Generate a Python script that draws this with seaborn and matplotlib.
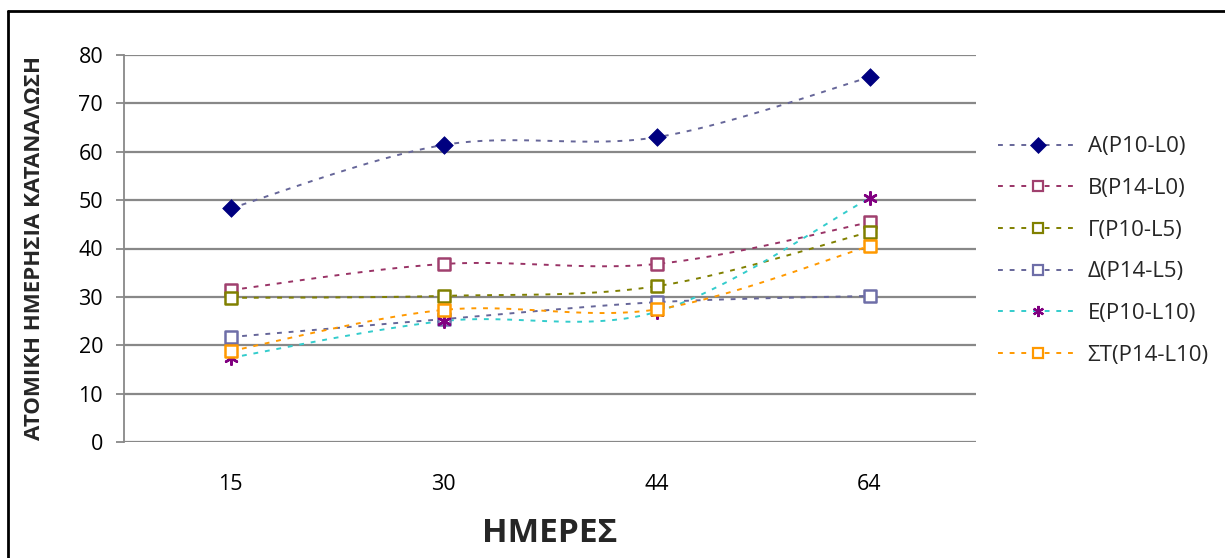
import numpy as np
import pandas as pd
import matplotlib
matplotlib.use("Agg")
import matplotlib.pyplot as plt
from matplotlib.lines import Line2D
import seaborn as sns

# ---- data ----
days = ["15", "30", "44", "64"]
series_names = ["Α(P10-L0)", "Β(P14-L0)", "Γ(P10-L5)", "Δ(P14-L5)", "Ε(P10-L10)", "ΣΤ(P14-L10)"]
A_vals = [48.3, 61.4, 63.0, 75.4]
B_vals = [31.4, 36.8, 36.8, 45.4]
G_vals = [29.8, 30.2, 32.2, 43.4]
D_vals = [21.7, 25.4, 28.9, 30.2]
E_vals = [17.4, 25.0, 26.9, 50.4]
ST_vals = [18.8, 27.3, 27.4, 40.5]
all_vals = [A_vals, B_vals, G_vals, D_vals, E_vals, ST_vals]

# ---- styles ----
line_colors = ["#666699", "#993366", "#808000", "#666699", "#33CCCC", "#FF9900"]
marker_edge = ["#000080", "#A0406E", "#808000", "#6E6EA8", "#800080", "#FF9900"]
marker_face = ["#000080", "white", "white", "white", "#800080", "white"]
markers = ["D", "s", "s", "s", (6, 2, 0), "s"]
marker_sizes = [9, 8, 8, 8, 9, 8]

sns.set_theme(style="white")
plt.rcParams["font.family"] = ["Open Sans", "DejaVu Sans"]

fig = plt.figure(figsize=(12.25, 5.58), dpi=100)
ax = fig.add_axes([124 / 1225, 1 - 442 / 558, (976 - 124) / 1225, (442 - 55) / 558])

x_idx = np.arange(len(days))


def smooth(xs, ys, n=40):
    """Cardinal Bezier smoothing, similar to Excel smoothed lines."""
    xs = np.asarray(xs, float)
    ys = np.asarray(ys, float)
    px, py = [], []
    k = len(xs)
    t = np.linspace(0, 1, n)
    for i in range(k - 1):
        x0, y0 = (xs[i - 1], ys[i - 1]) if i > 0 else (xs[i], ys[i])
        x1, y1 = xs[i], ys[i]
        x2, y2 = xs[i + 1], ys[i + 1]
        x3, y3 = (xs[i + 2], ys[i + 2]) if i + 2 < k else (xs[i + 1], ys[i + 1])
        c1x, c1y = x1 + (x2 - x0) / 6, y1 + (y2 - y0) / 6
        c2x, c2y = x2 - (x3 - x1) / 6, y2 - (y3 - y1) / 6
        bx = (1 - t) ** 3 * x1 + 3 * (1 - t) ** 2 * t * c1x + 3 * (1 - t) * t ** 2 * c2x + t ** 3 * x2
        by = (1 - t) ** 3 * y1 + 3 * (1 - t) ** 2 * t * c1y + 3 * (1 - t) * t ** 2 * c2y + t ** 3 * y2
        px.extend(bx)
        py.extend(by)
    return np.array(px), np.array(py)


for i, (name, vals) in enumerate(zip(series_names, all_vals)):
    sx, sy = smooth(x_idx, vals)
    sns.lineplot(x=sx, y=sy, ax=ax, color=line_colors[i], linewidth=1.4,
                 linestyle=(0, (2.5, 3.5)), sort=False, estimator=None, zorder=3)
for i, (name, vals) in enumerate(zip(series_names, all_vals)):
    sns.scatterplot(x=x_idx, y=vals, ax=ax, marker=markers[i], s=marker_sizes[i] ** 2,
                    facecolor=marker_face[i], edgecolor=marker_edge[i],
                    linewidth=1.8 if markers[i] != "D" else 0.5, zorder=4)

ax.set_xlim(-0.5, 3.5)
ax.set_ylim(0, 80)
ax.set_yticks(np.arange(0, 81, 10))
ax.set_xticks(x_idx)
ax.set_xticklabels(days)
ax.yaxis.grid(True, color="#888888", linewidth=1.6)
ax.set_axisbelow(True)
for side in ["top", "right", "bottom"]:
    ax.spines[side].set_visible(False)
ax.spines["left"].set_color("#888888")
ax.spines["left"].set_linewidth(1.3)
ax.tick_params(axis="y", which="major", left=True, length=6, width=1.3, color="#888888",
               labelsize=15.5, pad=9, labelcolor="black")
ax.tick_params(axis="x", bottom=False, labelsize=15.5, pad=17, labelcolor="black")

ax.set_xlabel("ΗΜΕΡΕΣ", fontsize=24, fontweight="bold", labelpad=16)
ax.set_ylabel("ΑΤΟΜΙΚΗ ΗΜΕΡΗΣΙΑ ΚΑΤΑΝΑΛΩΣΗ", fontsize=16, fontweight="bold", labelpad=24)

handles = []
for i, name in enumerate(series_names):
    handles.append(Line2D([0], [0], color=line_colors[i], linewidth=1.4, linestyle=(0, (2.5, 3.5)),
                          marker=markers[i], markersize=marker_sizes[i] - 1,
                          markerfacecolor=marker_face[i], markeredgecolor=marker_edge[i],
                          markeredgewidth=1.6 if markers[i] != "D" else 0.5))
fig.legend(handles=handles, labels=series_names, loc="center left",
           bbox_to_anchor=(982 / 1225, 1 - 251 / 558), frameon=False, fontsize=16,
           handlelength=3.6, handletextpad=0.45, labelspacing=0.93, borderpad=0.2)

# outer border (left and top visible, extends past the crop)
fig.add_artist(Line2D([8 / 1225, 8 / 1225], [-0.05, 1 - 11 / 558], transform=fig.transFigure,
                      color="black", linewidth=2))
fig.add_artist(Line2D([8 / 1225, 1.05], [1 - 11 / 558, 1 - 11 / 558], transform=fig.transFigure,
                      color="black", linewidth=2))

fig.savefig("out.png", dpi=100, facecolor="white")
